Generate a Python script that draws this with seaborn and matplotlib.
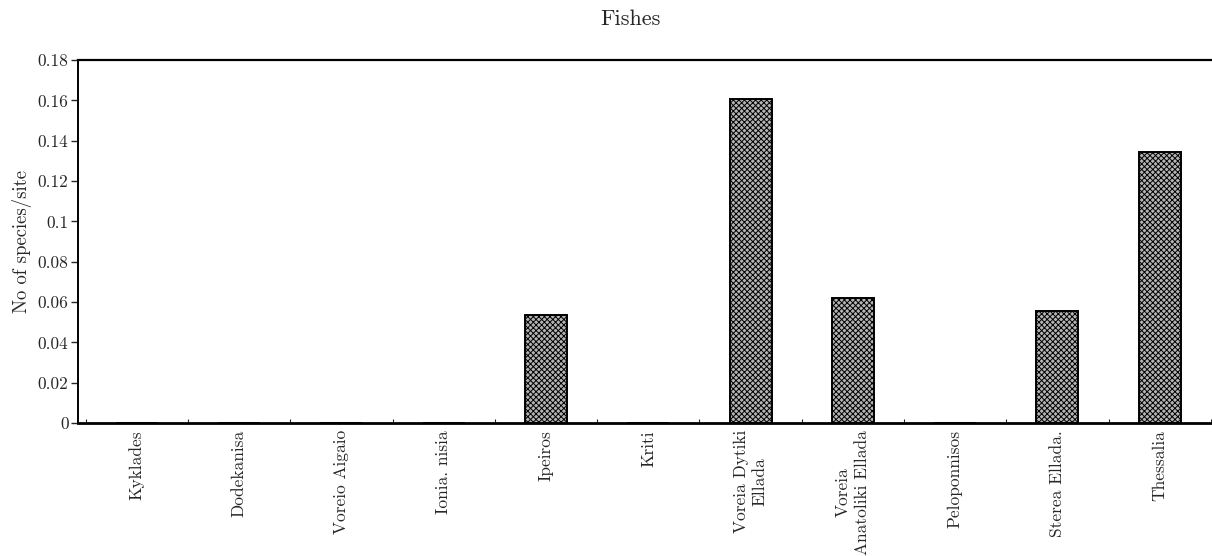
import matplotlib
matplotlib.use("Agg")
import matplotlib.pyplot as plt
from matplotlib.ticker import FuncFormatter, MultipleLocator
import seaborn as sns
import pandas as pd

regions = ["Kyklades", "Dodekanisa", "Voreio Aigaio", "Ionia. nisia", "Ipeiros",
           "Kriti", "Voreia Dytiki\nEllada", "Voreia\nAnatoliki Ellada",
           "Peloponnisos", "Sterea Ellada.", "Thessalia"]
species_per_site = [0, 0, 0, 0, 0.0536, 0, 0.1607, 0.062, 0, 0.0555, 0.1344]

df = pd.DataFrame({"region": regions, "value": species_per_site})

sns.set_style("white")
plt.rcParams["font.family"] = ["cmr10", "DejaVu Serif"]
plt.rcParams["axes.formatter.use_mathtext"] = True
plt.rcParams["hatch.color"] = "#2e2e2e"
plt.rcParams["hatch.linewidth"] = 0.7

fig = plt.figure(figsize=(12.12, 5.56), dpi=100)
ax = fig.add_axes([0.064, 0.239, 0.935, 0.653])

sns.barplot(data=df, x="region", y="value", color="#b4b4b4", width=0.41,
            edgecolor="black", linewidth=1.4, hatch="xxxxxx", ax=ax)

ax.set_xlim(-0.58, 10.5)
ax.set_ylim(0, 0.18)
ax.yaxis.set_major_locator(MultipleLocator(0.02))
ax.yaxis.set_major_formatter(FuncFormatter(lambda v, p: f"{round(v, 2):g}"))
ax.tick_params(axis="y", direction="out", length=5, width=1, labelsize=12.5, left=True, pad=1.5)
ax.tick_params(axis="x", length=0, labelsize=12.5, pad=5)
ax.set_xticks(range(len(regions)))
ax.set_xticklabels(regions, rotation=90, va="top", ha="center", multialignment="center",
                   linespacing=1.3)
ax.set_xticks([i + 0.5 for i in range(-1, len(regions))], minor=True)
ax.tick_params(axis="x", which="minor", direction="in", length=3, width=0.8, bottom=True)

ax.set_xlabel("")
ax.set_ylabel("No of species/site", fontsize=13.5, labelpad=4)

for side in ["left", "top", "bottom"]:
    ax.spines[side].set_visible(True)
    ax.spines[side].set_color("black")
ax.spines["left"].set_linewidth(1.4)
ax.spines["top"].set_linewidth(1.6)
ax.spines["bottom"].set_linewidth(2.0)
ax.spines["right"].set_visible(False)

fig.text(0.52, 0.965, "Fishes", ha="center", va="center", fontsize=16)

fig.savefig("out.png", dpi=100)
